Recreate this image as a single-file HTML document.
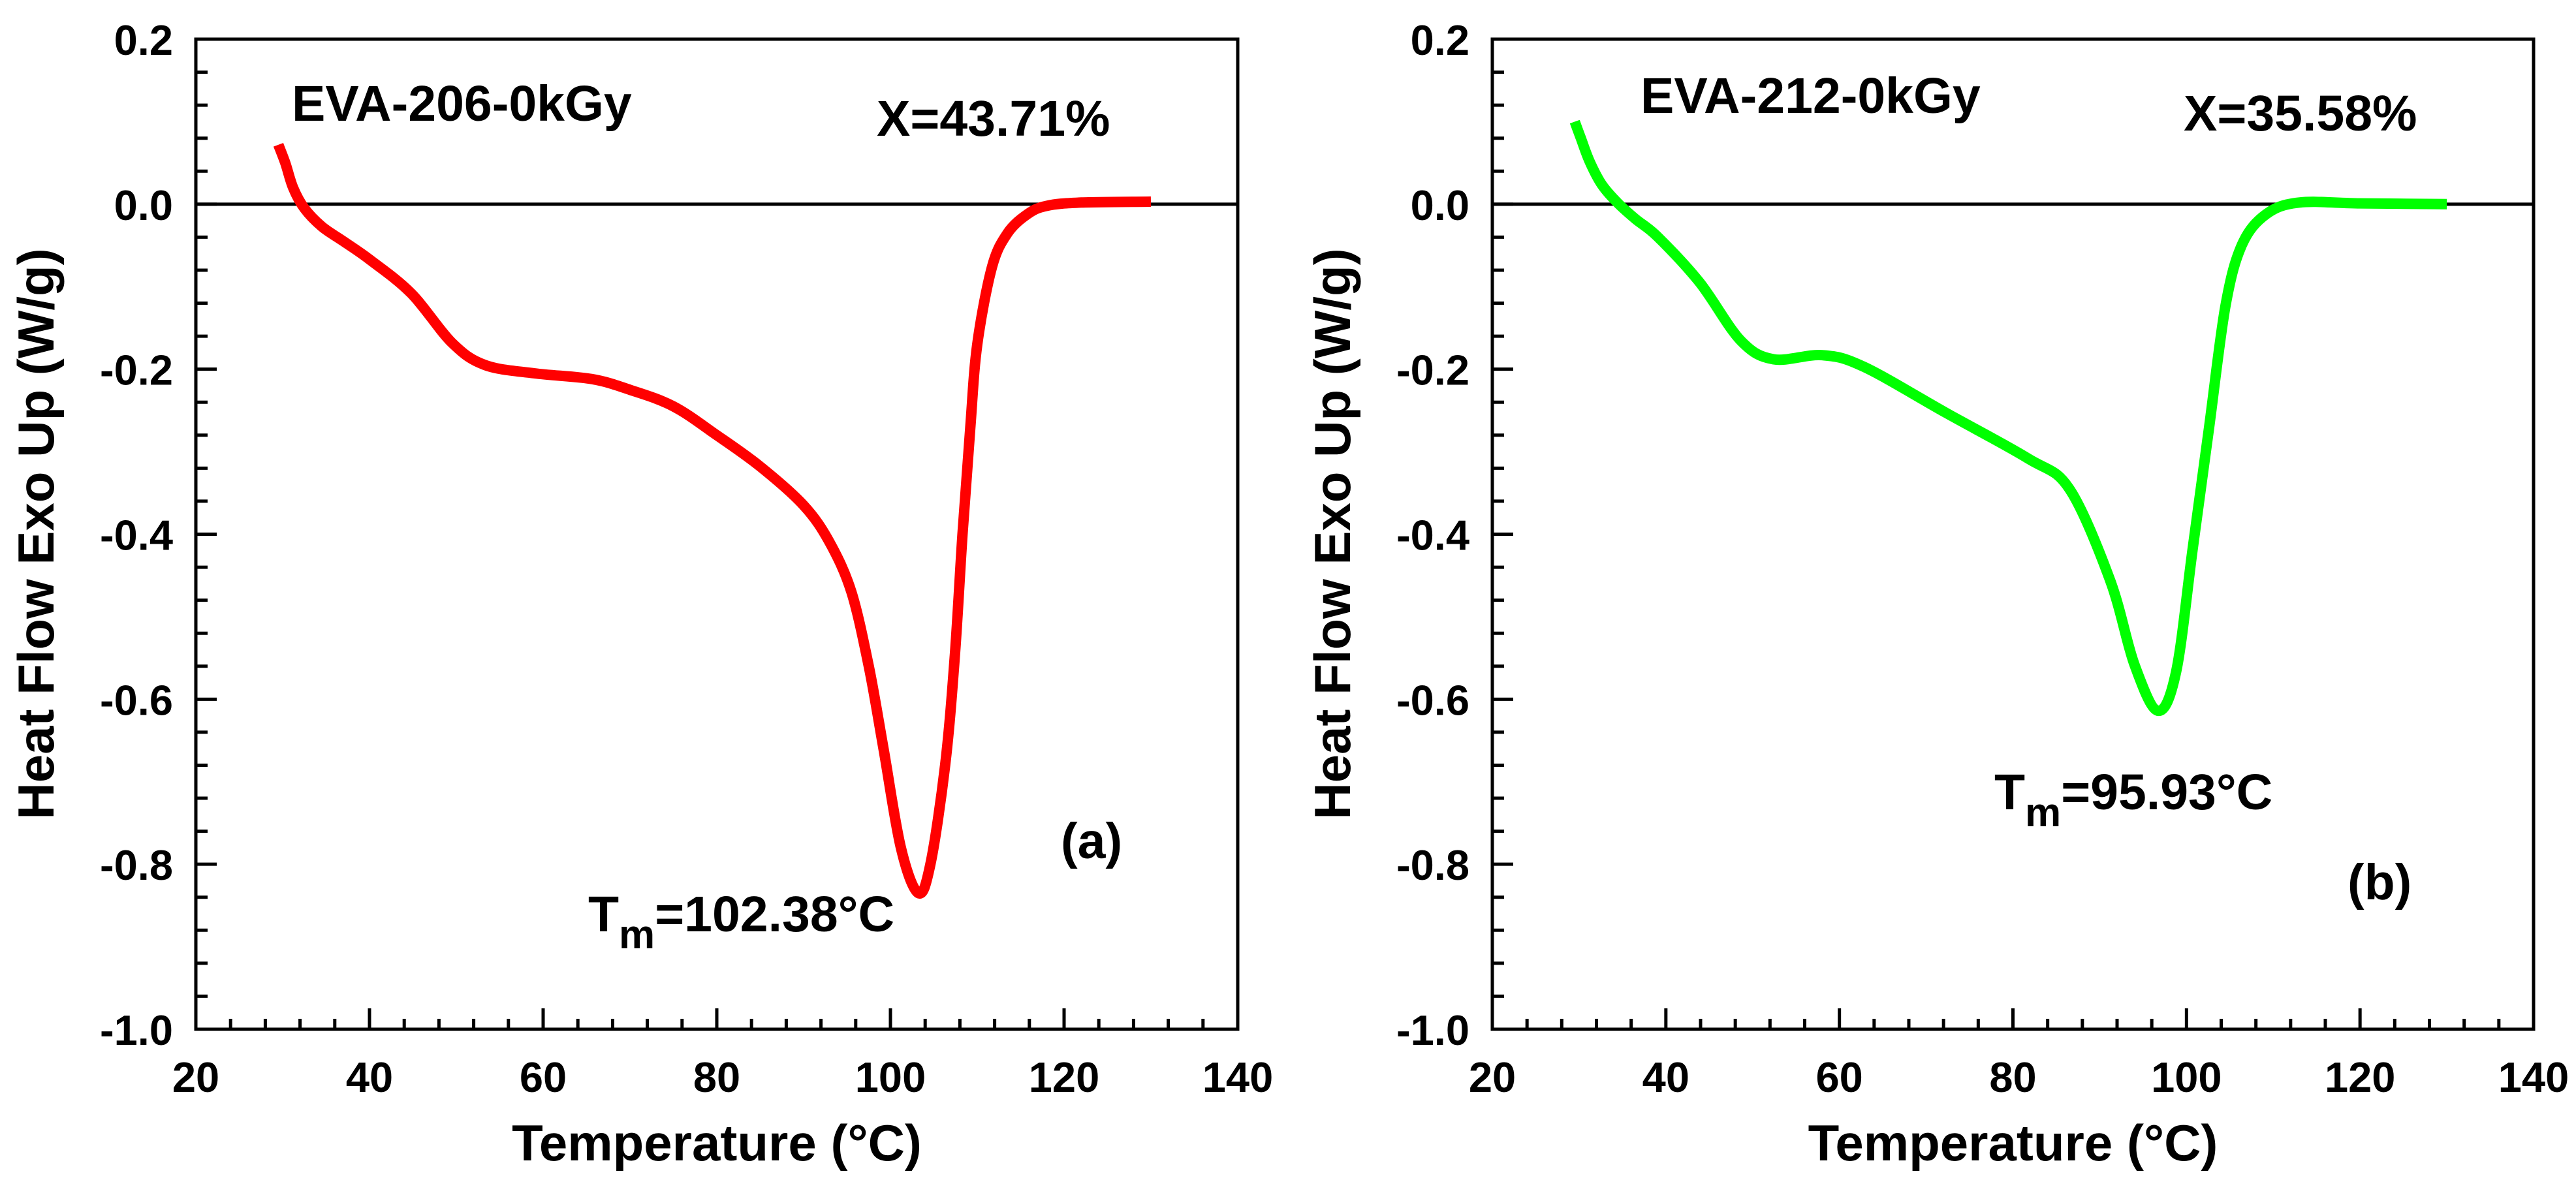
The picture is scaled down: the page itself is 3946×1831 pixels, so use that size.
<!DOCTYPE html>
<html><head><meta charset="utf-8">
<style>
html,body{margin:0;padding:0;background:#fff;}
svg{display:block;font-family:"Liberation Sans",Arial,sans-serif;font-weight:bold;}
</style></head>
<body>
<svg id="chart" width="3946" height="1831" viewBox="0 0 3946 1831" xmlns="http://www.w3.org/2000/svg"></svg>
<script>
// Panel (a) data: EVA-206-0kGy
const tempA = [29.5,30.3,31.2,32.5,34.5,37,40,44.8,49.5,53.3,59,65.6,70,75,80,85,90,93,95.5,97.5,99.2,101.2,103.2,104.6,106.3,107.4,108.3,109.2,110,111.7,113.5,115.8,118,122,130];
const flowA = [0.072,0.05,0.02,-0.005,-0.027,-0.045,-0.067,-0.108,-0.168,-0.195,-0.205,-0.212,-0.225,-0.245,-0.28,-0.318,-0.365,-0.41,-0.47,-0.56,-0.66,-0.78,-0.835,-0.80,-0.68,-0.55,-0.40,-0.27,-0.17,-0.076,-0.035,-0.012,-0.002,0.002,0.003];
// Panel (b) data: EVA-212-0kGy
const tempB = [29.5,30.2,31.2,32.6,34.4,36.5,39.1,43.9,48.6,52.4,58,62.8,72.3,81.7,86.5,91.2,94,96.7,98.8,100.7,102.6,104.5,106.4,109.2,113,120,130];
const flowB = [0.1,0.08,0.052,0.024,0.002,-0.018,-0.04,-0.095,-0.165,-0.188,-0.183,-0.197,-0.253,-0.308,-0.345,-0.456,-0.558,-0.614,-0.567,-0.419,-0.271,-0.123,-0.049,-0.012,0.002,0.001,0];
const xTicks = [20,40,60,80,100,120,140];
const yTicks = [0.2,0.0,-0.2,-0.4,-0.6,-0.8,-1.0];
const yTickLabels = ["0.2","0.0","-0.2","-0.4","-0.6","-0.8","-1.0"];

const NS = "http://www.w3.org/2000/svg";
const svg = document.getElementById('chart');
function mk(tag, attrs, parent){
  const e = document.createElementNS(NS, tag);
  for (const k in attrs) e.setAttribute(k, attrs[k]);
  (parent||svg).appendChild(e);
  return e;
}
function smoothPath(pts){
  let d = "M" + pts[0][0].toFixed(1) + "," + pts[0][1].toFixed(1);
  for (let i=0;i<pts.length-1;i++){
    const p0 = pts[Math.max(0,i-1)], p1 = pts[i], p2 = pts[i+1], p3 = pts[Math.min(pts.length-1,i+2)];
    const c1x = p1[0]+(p2[0]-p0[0])/6, c1y = p1[1]+(p2[1]-p0[1])/6;
    const c2x = p2[0]-(p3[0]-p1[0])/6, c2y = p2[1]-(p3[1]-p1[1])/6;
    d += " C"+c1x.toFixed(1)+","+c1y.toFixed(1)+" "+c2x.toFixed(1)+","+c2y.toFixed(1)+" "+p2[0].toFixed(1)+","+p2[1].toFixed(1);
  }
  return d;
}

function panel(cfg){
  const L = cfg.left, R = cfg.right, T = 60, B = 1577;
  const xs = v => L + (v-20)/120*(R-L);
  const ys = v => T + (0.2-v)/1.2*(B-T);
  const g = mk('g', {});
  
  
  for (let v=20; v<=140; v+=4){
    const major = (v%20===0);
    const t = mk('line', {x1:xs(v), x2:xs(v), y1:B, y2:B-(major?32:16), stroke:'#000','stroke-width':5}, g);
    
    
  }
  for (let k=0; k<=30; k++){
    const v = 0.2 - k*0.04;
    const major = (k%5===0);
    const t = mk('line', {x1:L, x2:L+(major?32:18), y1:ys(v), y2:ys(v), stroke:'#000','stroke-width':5}, g);
    
    
  }
  const z = mk('line', {x1:L, x2:R, y1:ys(0), y2:ys(0), stroke:'#000','stroke-width':5}, g);
  
  
  const pts = cfg.xv.map((x,i)=>[xs(x), ys(cfg.yv[i])]);
  const c = mk('path', {d:smoothPath(pts), fill:'none', stroke:cfg.color, 'stroke-width':16, 'stroke-linejoin':'round'}, g);
  
  
  const f = mk('rect', {x:L, y:T, width:R-L, height:B-T, fill:'none', stroke:'#000', 'stroke-width':5}, g);
  
  
  xTicks.forEach(v=>{
    const t = mk('text', {x:xs(v), y:1673, 'font-size':65, 'text-anchor':'middle'}, g);
    t.textContent = String(v);
    
    
  });
  yTicks.forEach((v,i)=>{
    const t = mk('text', {x:L-35, y:ys(v)+24, 'font-size':65, 'text-anchor':'end'}, g);
    t.textContent = yTickLabels[i];
    
    
  });
  const xt = mk('text', {x:(L+R)/2, y:1778, 'font-size':78, 'text-anchor':'middle'}, g);
  xt.textContent = 'Temperature (°C)';
  
  
  const yx = L - 218, yy = 818;
  const yt = mk('text', {x:yx, y:yy, 'font-size':78, 'text-anchor':'middle', transform:'rotate(-90 '+yx+' '+yy+')'}, g);
  yt.textContent = 'Heat Flow Exo Up (W/g)';
  
  
  const s = mk('text', {x:cfg.sx, y:cfg.sy, 'font-size':77}, g);
  s.textContent = cfg.sample;
  
  
  const xc = mk('text', {x:cfg.cx, y:cfg.cy, 'font-size':77}, g);
  xc.textContent = cfg.cryst;
  
  
  const tm = mk('text', {x:cfg.tx, y:cfg.ty, 'font-size':77}, g);
  
  
  const t1 = mk('tspan', {}, tm); t1.textContent = 'T';
  const t2 = mk('tspan', {dy:26, 'font-size':62}, tm); t2.textContent = 'm';
  const t3 = mk('tspan', {dy:-26}, tm); t3.textContent = cfg.tm;
  const pl = mk('text', {x:cfg.px, y:cfg.py, 'font-size':77}, g);
  pl.textContent = cfg.letter;
  
  
}

panel({name:'panel-a', left:300, right:1896, xv:tempA, yv:flowA, color:'#ff0000',
  sample:'EVA-206-0kGy', sx:447, sy:185, cryst:'X=43.71%', cx:1343, cy:208,
  tm:'=102.38°C', tx:901, ty:1427, letter:'(a)', px:1625, py:1315});
panel({name:'panel-b', left:2286, right:3881, xv:tempB, yv:flowB, color:'#00ff00',
  sample:'EVA-212-0kGy', sx:2513, sy:173, cryst:'X=35.58%', cx:3345, cy:200,
  tm:'=95.93°C', tx:3055, ty:1240, letter:'(b)', px:3596, py:1378});
</script>
</body></html>
